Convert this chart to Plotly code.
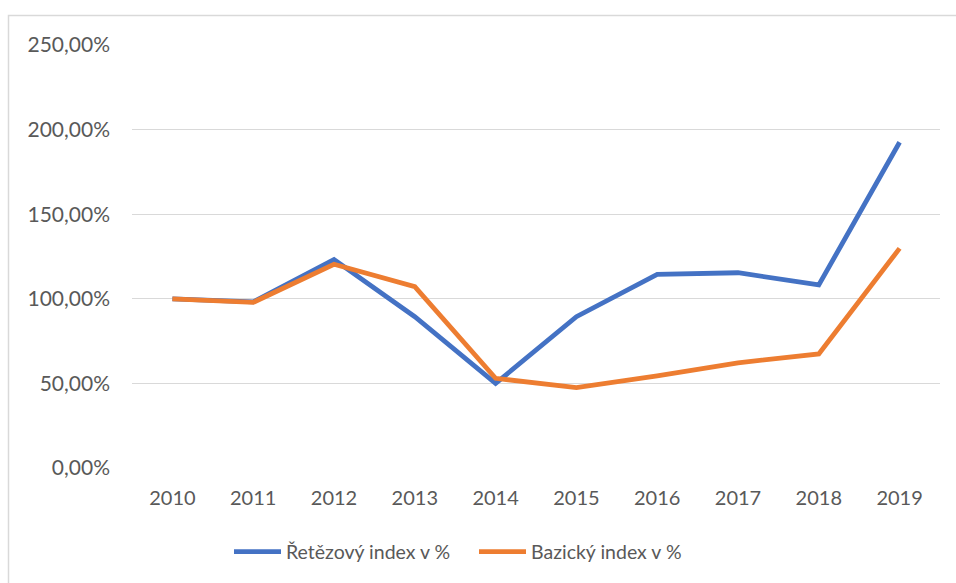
import plotly.graph_objects as go

years = ["2010", "2011", "2012", "2013", "2014", "2015", "2016", "2017", "2018", "2019"]
retezovy = [100.0, 98.2, 123.2, 89.4, 50.0, 89.4, 114.5, 115.4, 108.2, 192.5]
bazicky = [100.0, 97.9, 120.4, 107.2, 53.0, 47.5, 54.4, 62.2, 67.4, 129.8]
ytick_vals = [0, 50, 100, 150, 200, 250]
ytick_text = ["0,00%", "50,00%", "100,00%", "150,00%", "200,00%", "250,00%"]

W, H = 956, 583
L, T = 132, 45
R = W - 940
B = H - 468
pw, ph = W - L - R, H - T - B

def px_to_paper_x(px):
    return (px - L) / pw

def px_to_paper_y(py):
    return (H - B - py) / ph

fig = go.Figure()
fig.add_trace(go.Scatter(x=years, y=retezovy, mode="lines", name="Řetězový index v %",
                         line=dict(color="#4472C4", width=4.8)))
fig.add_trace(go.Scatter(x=years, y=bazicky, mode="lines", name="Bazický index v %",
                         line=dict(color="#ED7D31", width=4.8)))

fig.add_shape(type="rect", xref="paper", yref="paper",
              x0=px_to_paper_x(8.5), x1=px_to_paper_x(1000),
              y0=px_to_paper_y(640), y1=px_to_paper_y(15.5),
              line=dict(color="#D9D9D9", width=1.5), fillcolor="rgba(0,0,0,0)", layer="below")

font = "Lato, Calibri, sans-serif"
fig.update_layout(
    width=W, height=H,
    margin=dict(l=L, r=R, t=T, b=B, autoexpand=False),
    paper_bgcolor="white", plot_bgcolor="white",
    font=dict(family=font, size=20, color="#595959"),
    showlegend=True,
    legend=dict(orientation="h", x=px_to_paper_x(229), xanchor="left",
                y=px_to_paper_y(552), yanchor="middle",
                font=dict(size=19.5, color="#595959"), itemwidth=47,
                entrywidth=183, entrywidthmode="pixels", tracegroupgap=0),
    xaxis=dict(type="category", showgrid=False, zeroline=False, showline=False,
               ticks="", ticklabelstandoff=16, tickfont=dict(size=20, color="#595959"),
               range=[-0.5, 9.5], fixedrange=True),
    yaxis=dict(range=[0, 250], tickvals=ytick_vals, ticktext=ytick_text,
               showgrid=True, gridcolor="#D9D9D9", gridwidth=1.3, zeroline=False,
               showline=False, ticks="", ticklabelstandoff=21,
               tickfont=dict(size=21, color="#595959"), fixedrange=True),
)

fig.write_html("out.html", config={"displayModeBar": False},
               post_script="document.body.style.margin='0';document.body.style.overflow='hidden';")
